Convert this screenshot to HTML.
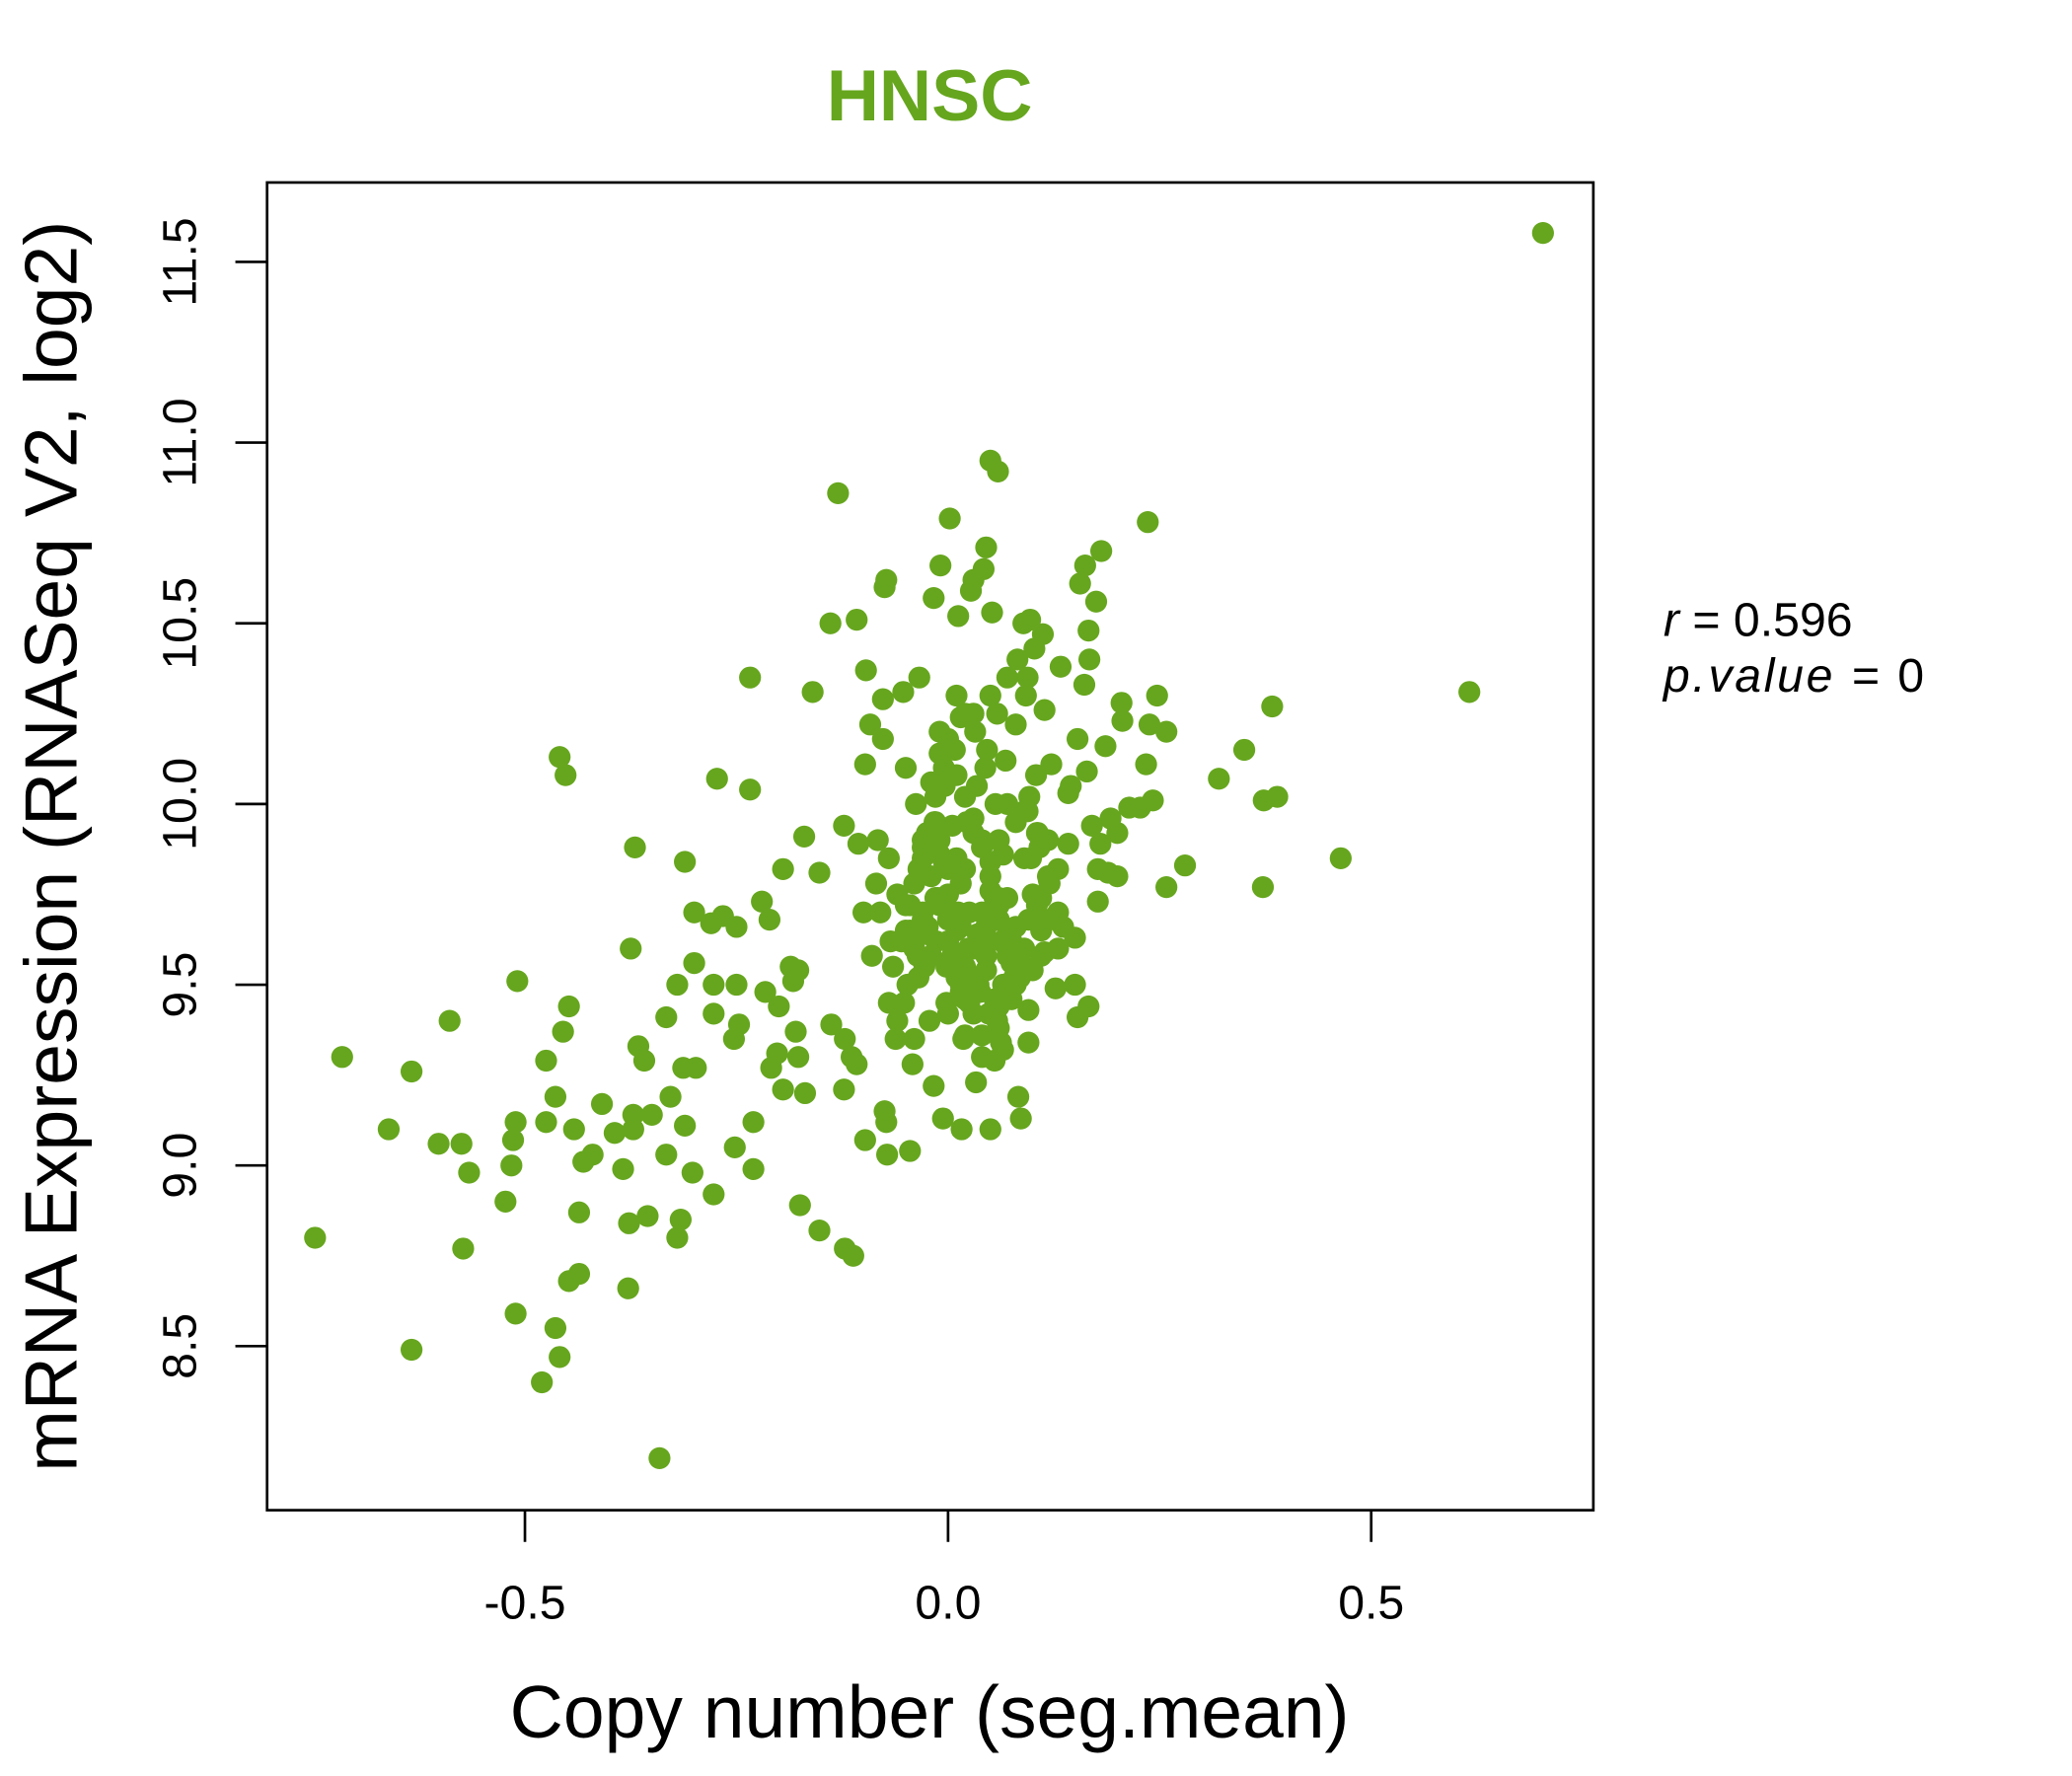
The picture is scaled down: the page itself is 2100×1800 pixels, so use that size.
<!DOCTYPE html>
<html><head><meta charset="utf-8"><style>
html,body{margin:0;padding:0;background:#fff;}
svg{display:block;}
text{font-family:"Liberation Sans","DejaVu Sans",sans-serif;}
</style></head><body>
<svg id="chart" width="2100" height="1800" viewBox="0 0 1567 1343" preserveAspectRatio="none" xmlns="http://www.w3.org/2000/svg">
<text x="703" y="91" text-anchor="middle" font-size="55" font-weight="bold" fill="#66a61e">HNSC</text>
<rect x="202" y="138" width="1003" height="1004" fill="none" stroke="#000" stroke-width="2"/>
<g id="points"></g>
<g id="xaxis"></g>
<g id="yaxis"></g>
<text x="703" y="1314" text-anchor="middle" font-size="56">Copy number (seg.mean)</text>
<text transform="translate(58,640) rotate(-90)" text-anchor="middle" font-size="56">mRNA Expression (RNASeq V2, log2)</text>
<text x="1258" y="481" font-size="36"><tspan font-style="italic">r</tspan> = 0.596</text>
<text x="1258" y="523" font-size="36" font-style="italic" letter-spacing="2">p.value = <tspan font-style="normal" letter-spacing="0">0</tspan></text>
</svg>
<script>
const xTicks = [-0.5, 0.0, 0.5];
const xTickLabels = ["-0.5", "0.0", "0.5"];
const yTicks = [8.5, 9.0, 9.5, 10.0, 10.5, 11.0, 11.5];
const yTickLabels = ["8.5", "9.0", "9.5", "10.0", "10.5", "11.0", "11.5"];
const copyNumber = [0.703,0.616,0.464,0.383,0.389,0.373,0.372,0.35,0.32,0.28,0.258,0.258,0.236,0.247,0.238,0.234,0.242,0.227,0.214,0.205,0.206,0.192,0.2,0.2,0.186,0.181,0.175,0.162,0.156,0.166,0.167,0.161,0.17,0.177,0.18,0.189,0.177,0.164,0.153,0.166,0.153,0.15,0.136,0.142,0.142,0.145,0.133,0.122,0.127,0.114,0.119,0.114,0.112,0.102,0.097,0.089,0.094,0.095,0.095,0.083,0.086,0.0625,0.055,0.05,0.033,0.016,-0.006,-0.017,0.05,0.059,0.045,0.042,0.027,0.03,0.002,-0.009,-0.017,0.052,0.012,-0.13,-0.108,-0.139,-0.073,-0.075,-0.097,-0.16,-0.234,-0.034,-0.053,-0.077,-0.092,-0.077,-0.098,-0.273,-0.234,-0.459,-0.452,-0.17,-0.123,-0.106,-0.083,-0.37,-0.311,-0.195,-0.152,-0.22,-0.211,-0.30,-0.28,-0.266,-0.25,-0.375,-0.30,-0.186,-0.177,-0.183,-0.277,-0.32,-0.25,-0.509,-0.216,-0.2,-0.277,-0.247,-0.333,-0.589,-0.448,-0.455,-0.18,-0.138,-0.122,-0.253,-0.366,-0.359,-0.716,-0.634,-0.475,-0.313,-0.298,-0.209,-0.202,-0.177,-0.114,-0.108,-0.195,-0.169,-0.123,-0.409,-0.328,-0.464,-0.35,-0.372,-0.311,-0.23,-0.511,-0.475,-0.661,-0.442,-0.394,-0.372,-0.514,-0.602,-0.575,-0.252,-0.098,-0.073,-0.075,-0.072,-0.045,-0.42,-0.431,-0.333,-0.516,-0.566,-0.384,-0.302,-0.23,-0.277,-0.523,-0.175,-0.436,-0.355,-0.377,-0.316,-0.152,-0.32,-0.748,-0.573,-0.122,-0.112,-0.436,-0.448,-0.378,-0.511,-0.464,-0.634,-0.459,-0.48,-0.341,
-0.07,-0.06,-0.05,-0.04,-0.03,-0.02,-0.01,0.0,0.01,0.02,0.03,0.04,0.05,0.06,0.07,0.08,0.09,0.1,
-0.065,-0.055,-0.045,-0.035,-0.025,-0.015,-0.005,0.005,0.015,0.025,0.035,0.045,0.055,0.065,0.075,0.085,0.095,0.105,
-0.06,-0.048,-0.036,-0.024,-0.012,0.0,0.012,0.024,0.036,0.048,0.06,0.072,0.084,0.096,0.108,0.12,
-0.08,-0.068,-0.052,-0.04,-0.028,-0.016,-0.004,0.008,0.02,0.032,0.044,0.056,0.068,0.08,0.092,0.104,
-0.05,-0.038,-0.026,-0.014,-0.002,0.01,0.022,0.034,0.046,0.058,0.07,0.082,0.094,0.106,0.118,0.13,
-0.09,-0.07,-0.05,-0.03,-0.01,0.01,0.03,0.05,0.07,0.09,0.11,0.13,0.15,
-0.1,-0.085,-0.062,-0.042,-0.022,-0.002,0.018,0.038,0.058,0.078,0.098,0.118,
-0.03,-0.015,0.0,0.015,0.03,0.045,0.06,0.075,0.09,0.105,-0.045,0.0,0.02,0.04,0.065,0.11,
-0.04,-0.03,-0.02,-0.01,0.0,0.01,0.02,0.03,0.04,0.05,0.06,0.07,0.08,
-0.035,-0.025,-0.015,-0.005,0.005,0.015,0.025,0.035,0.045,0.055,0.065,0.075,
-0.02,-0.01,0.0,0.01,0.02,0.03,0.04,0.05,0.06,0.07,-0.03,0.015,0.045,0.08,0.1,
0.0,0.02,0.04,0.06,0.08,0.1,0.12,-0.01,0.03,0.05,0.07,0.09,0.11,0.13,0.015];
const mrnaExpression = [11.58,10.31,9.85,10.27,10.02,10.01,9.77,10.15,10.07,9.83,9.77,10.20,10.78,10.30,10.22,10.11,10.01,9.99,9.99,10.28,10.23,9.96,9.92,9.80,10.16,10.70,10.56,10.66,10.61,10.48,10.40,10.33,9.94,9.82,9.89,9.81,9.73,10.09,10.18,9.44,9.41,9.63,9.66,9.89,10.03,10.05,10.38,10.11,9.49,9.59,9.79,10.26,10.47,10.43,10.51,10.50,10.35,9.43,9.34,9.19,9.13,9.34,9.29,9.10,9.23,9.10,9.13,9.22,10.95,10.92,10.71,10.65,10.59,10.62,10.79,10.66,10.57,10.53,10.52,10.86,10.51,10.50,10.62,10.60,10.37,10.31,10.35,10.35,10.31,10.29,10.22,10.18,10.11,10.07,10.04,10.13,10.08,9.91,9.94,9.89,9.90,9.88,9.84,9.82,9.81,9.73,9.68,9.70,9.67,9.69,9.66,9.60,9.56,9.55,9.54,9.51,9.50,9.50,9.50,9.51,9.48,9.44,9.42,9.39,9.41,9.40,9.44,9.37,9.37,9.39,9.35,9.35,9.33,9.29,9.30,9.26,9.29,9.27,9.27,9.27,9.31,9.30,9.30,9.28,9.21,9.20,9.21,9.17,9.19,9.19,9.14,9.14,9.11,9.12,9.12,9.12,9.10,9.10,9.09,9.10,9.07,9.06,9.06,9.05,9.07,9.12,9.15,9.03,9.04,9.03,9.01,9.03,9.00,8.98,8.99,8.98,8.99,8.92,8.90,8.89,8.87,8.86,8.84,8.85,8.82,8.80,8.80,8.77,8.77,8.75,8.70,8.68,8.66,8.59,8.55,8.49,8.47,8.40,8.19,
9.85,9.75,9.65,9.60,9.70,9.80,9.90,9.75,9.65,9.55,9.60,9.70,9.80,9.90,10.00,9.95,9.85,9.75,
9.55,9.62,9.72,9.82,9.92,10.02,10.10,9.58,9.48,9.45,9.52,9.66,9.74,9.86,9.62,9.52,9.68,9.92,
9.40,9.50,9.58,9.66,9.74,9.82,9.70,9.60,9.50,9.42,9.38,9.48,9.58,10.02,9.88,9.78,
9.70,9.62,9.45,9.35,9.55,9.95,10.05,10.15,10.25,10.20,10.10,10.00,10.12,10.22,10.30,10.08,
10.10,10.00,9.90,9.62,9.55,9.85,9.95,10.05,10.15,10.25,10.35,10.40,9.98,9.92,9.80,9.70,
9.58,9.45,9.72,9.85,10.20,10.30,10.25,10.30,9.60,9.55,9.65,9.60,9.50,
9.70,9.78,9.35,9.28,9.40,9.45,9.35,9.48,9.40,9.52,9.85,9.90,
9.88,9.95,9.68,9.50,9.42,9.62,9.72,9.56,9.98,9.72,9.65,9.62,9.46,9.36,9.32,9.58,
9.78,9.68,9.58,9.72,9.62,9.52,9.82,9.92,9.88,9.76,9.68,9.58,9.66,
9.52,9.64,9.74,9.84,9.94,9.78,9.70,9.64,9.54,9.46,9.50,9.46,
10.06,10.14,10.18,10.08,10.02,9.96,9.90,9.84,9.74,9.64,9.90,9.66,9.58,9.56,9.68,
9.42,9.36,9.30,9.44,9.50,9.54,9.68,9.86,9.48,9.62,9.74,9.60,9.74,9.82,10.24];

const X0 = 717, XU = 640, Y0 = 608, YU = 273.3;
function xScale(v){ return X0 + v * XU; }
function yScale(v){ return Y0 - (v - 10) * YU; }
const NS = "http://www.w3.org/2000/svg";
const pts = document.getElementById('points');
for (let i = 0; i < copyNumber.length; i++) {
  const c = document.createElementNS(NS, 'circle');
  c.setAttribute('cx', xScale(copyNumber[i]));
  c.setAttribute('cy', yScale(mrnaExpression[i]));
  c.setAttribute('r', 8.3);
  c.setAttribute('fill', '#66a61e');
  
  
  pts.appendChild(c);
}
const xa = document.getElementById('xaxis');
for (let i = 0; i < xTicks.length; i++) {
  const x = xScale(xTicks[i]);
  const l = document.createElementNS(NS, 'line');
  l.setAttribute('x1', x); l.setAttribute('x2', x);
  l.setAttribute('y1', 1142); l.setAttribute('y2', 1166);
  l.setAttribute('stroke', '#000'); l.setAttribute('stroke-width', 2);
  
  
  xa.appendChild(l);
  const t = document.createElementNS(NS, 'text');
  t.setAttribute('x', x); t.setAttribute('y', 1224);
  t.setAttribute('text-anchor', 'middle'); t.setAttribute('font-size', 36);
  t.textContent = xTickLabels[i];
  
  
  xa.appendChild(t);
}
const ya = document.getElementById('yaxis');
for (let i = 0; i < yTicks.length; i++) {
  const y = yScale(yTicks[i]);
  const l = document.createElementNS(NS, 'line');
  l.setAttribute('x1', 178); l.setAttribute('x2', 202);
  l.setAttribute('y1', y); l.setAttribute('y2', y);
  l.setAttribute('stroke', '#000'); l.setAttribute('stroke-width', 2);
  
  
  ya.appendChild(l);
  const t = document.createElementNS(NS, 'text');
  t.setAttribute('transform', 'translate(148,' + y + ') rotate(-90)');
  t.setAttribute('text-anchor', 'middle'); t.setAttribute('font-size', 36);
  t.textContent = yTickLabels[i];
  
  
  ya.appendChild(t);
}
</script>
</body></html>
